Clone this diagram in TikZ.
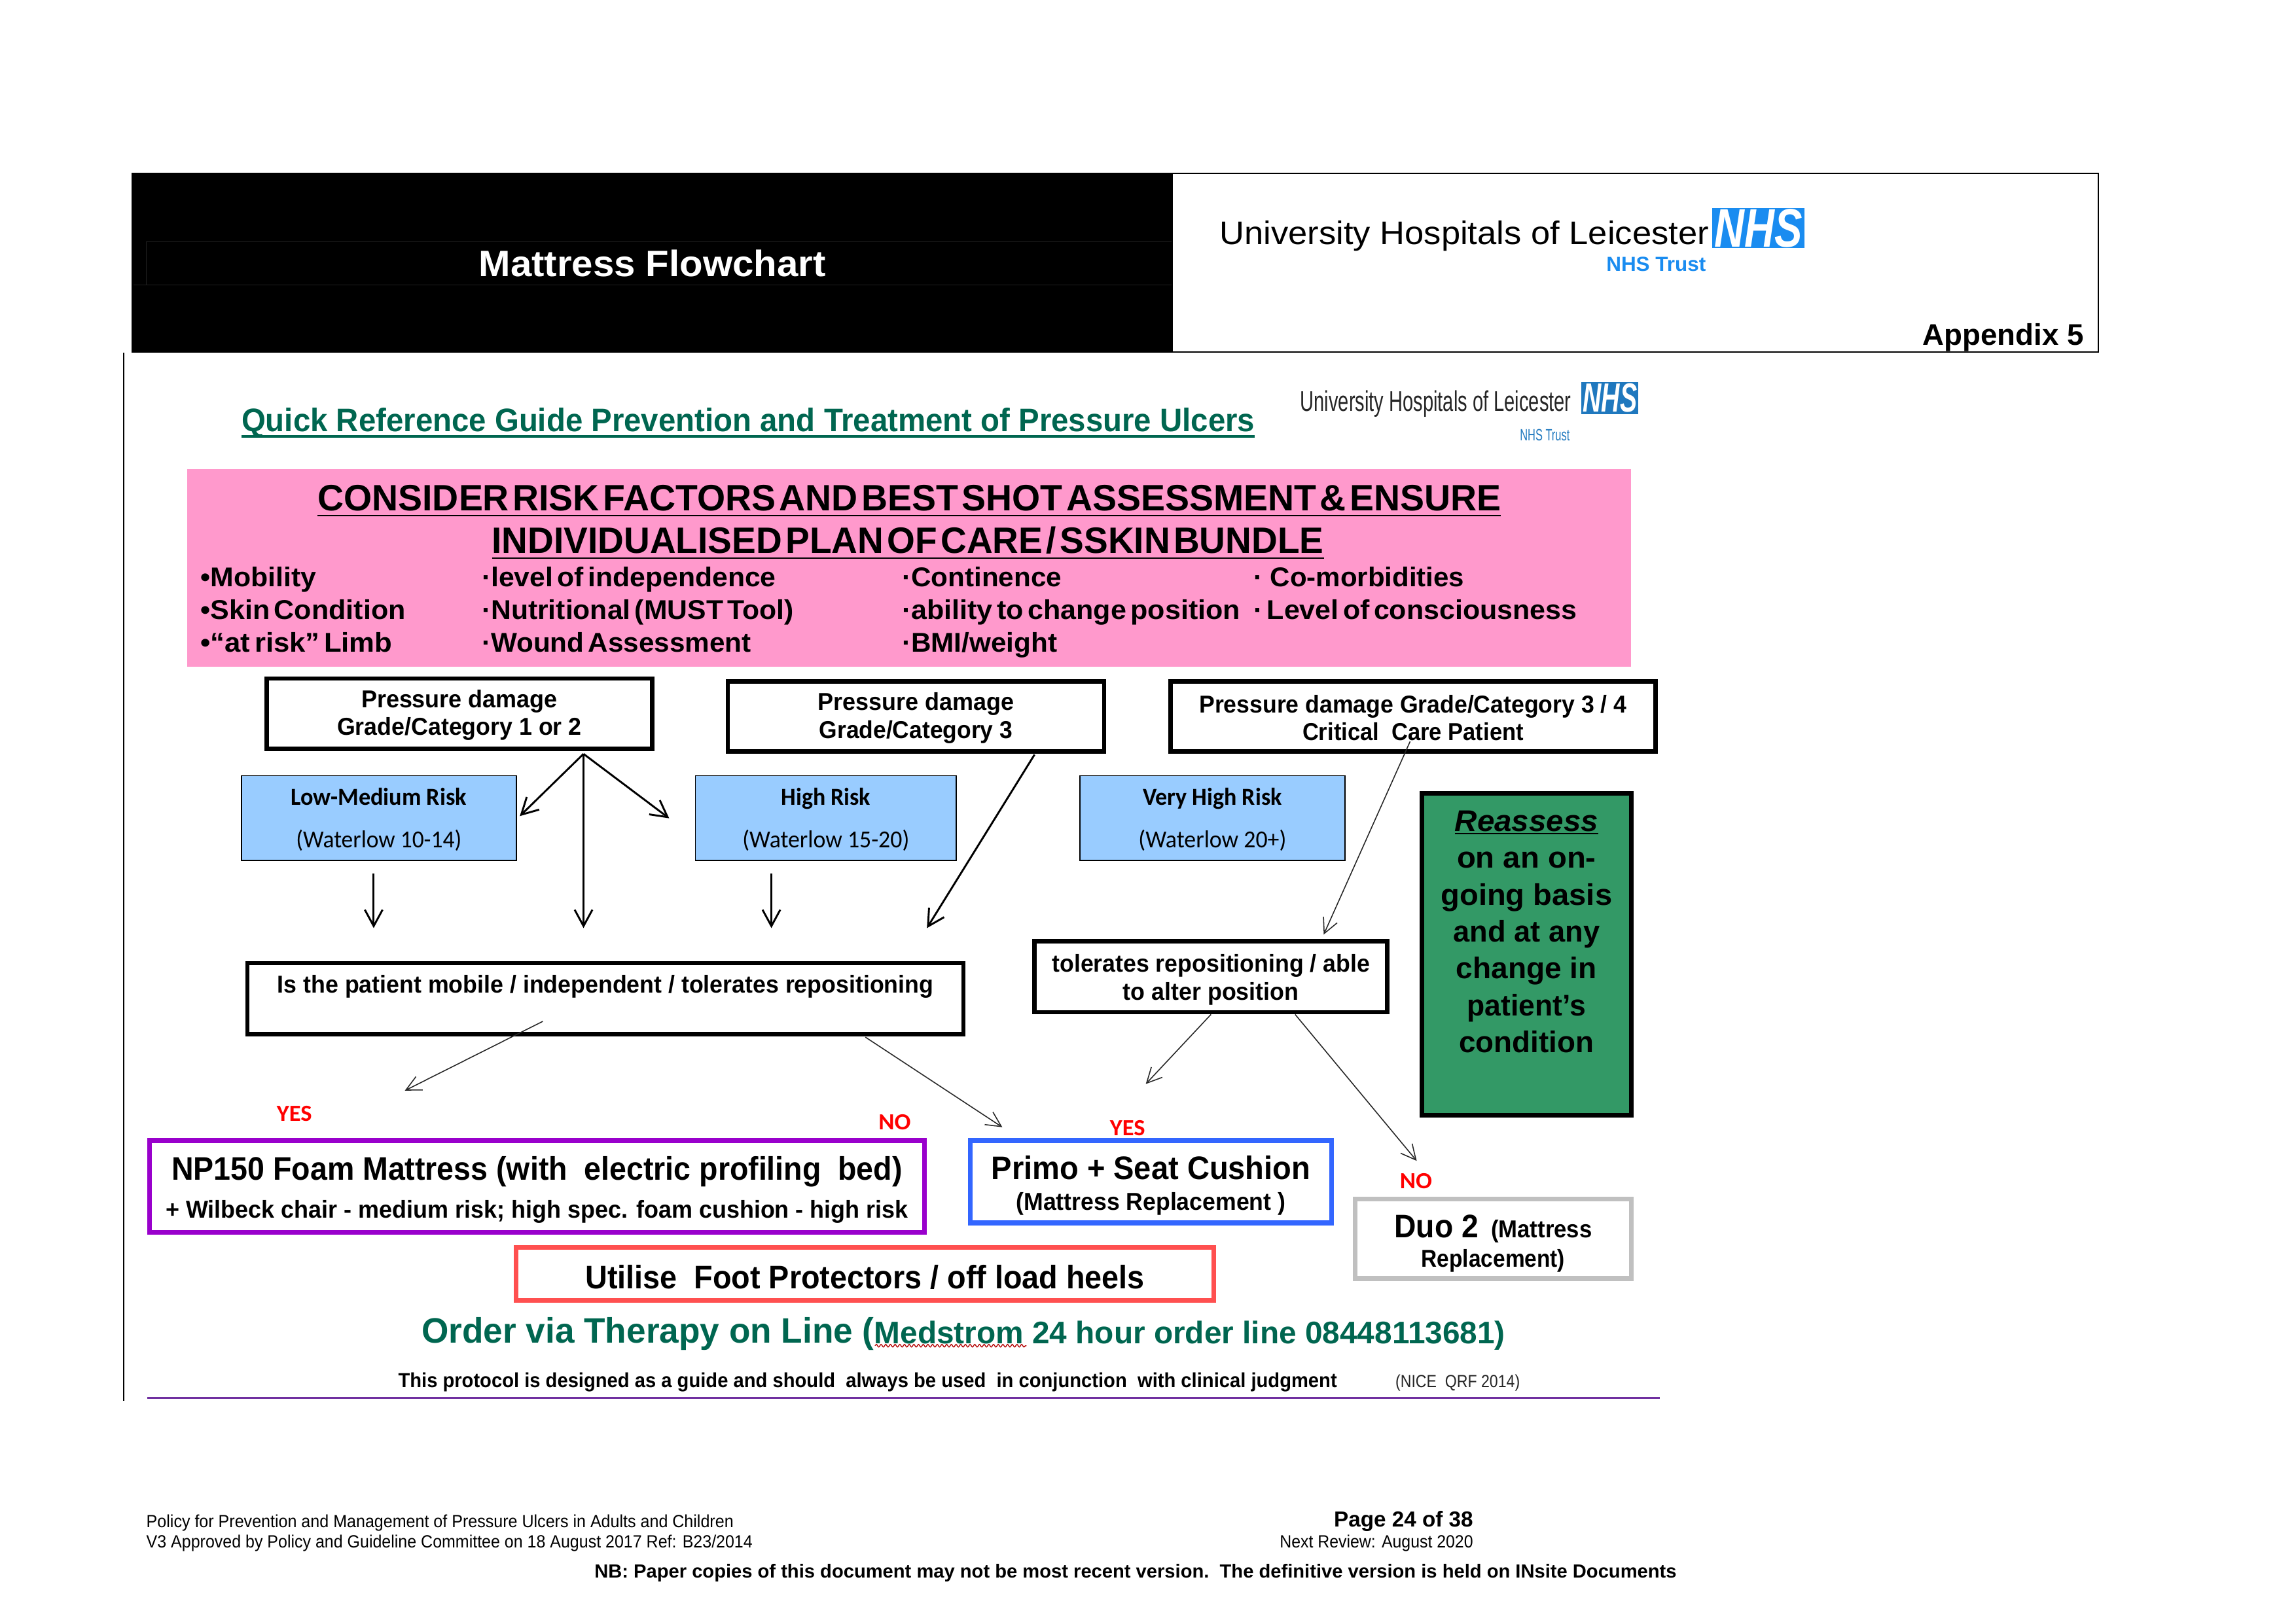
\documentclass[tikz,border=0pt]{standalone}
\usepackage{fontspec}
\usepackage{graphicx}
\usetikzlibrary{arrows.meta,decorations.pathmorphing}
\setmainfont{Liberation Sans}
\newfontfamily\carl{Carlito}
\newlength\du \setlength\du{0.537bp}
\newcommand\fw[2]{\resizebox{#1\du}{\height}{#2}}
\newcommand\Dn[1]{\rule{0pt}{#1bp}}
\newsavebox\ulbox
\newcommand\myul[3]{\sbox\ulbox{#3}\rlap{\rule[-#1\du]{\wd\ulbox}{#2\du}}\usebox\ulbox}
\newcounter{tn}
% \T{x1}{x2}{y}{options}{text}
\newcommand\T[5]{\stepcounter{tn}\pgfmathsetmacro\tw{#2-#1}\node[inner sep=0pt,anchor=mid,#4] (t\arabic{tn}) at ({(#1+#2)/2},#3) {\fw{\tw}{#5}};}
% \B{name}{x1}{x2}{y1}{y2}{options}{text}  (\bi = line width inset)
\def\bi{0}
\newcommand\B[7]{\pgfmathsetmacro\bw{#3-#2-\bi}\pgfmathsetmacro\bh{#5-#4-\bi}\node[minimum width=\bw\du,minimum height=\bh\du,inner sep=0pt,align=center,#6] (#1) at ({(#2+#3)/2},{(#4+#5)/2}) {#7};}
\definecolor{pinkbg}{HTML}{FF99CC}
\definecolor{riskblue}{HTML}{99CCFF}
\definecolor{reagreen}{HTML}{339966}
\definecolor{npurple}{HTML}{9900CC}
\definecolor{pblue}{HTML}{3366FF}
\definecolor{dgrey}{HTML}{C0C0C0}
\definecolor{ured}{HTML}{FF5050}
\definecolor{qgreen}{HTML}{006650}
\definecolor{nhsa}{HTML}{1A8CF0}
\definecolor{nhsb}{HTML}{1F78BE}
\definecolor{rule}{HTML}{7030A0}
\tikzset{
 tb/.style={font=\bfseries\fontsize{#1}{#1}\selectfont},
 tr/.style={font=\fontsize{#1}{#1}\selectfont},
 cb/.style={font=\carl\bfseries\fontsize{#1}{#1}\selectfont},
 bk/.style={draw=black,line width=3\du,fill=white},
 bkfont/.style={font=\bfseries\fontsize{9}{10.2}\selectfont},
 riskbox/.style={draw=black,line width=0.8\du,fill=riskblue,font=\carl\fontsize{9}{15.6}\selectfont},
 heavy/.style={draw=black,line width=1.3\du,-{Straight Barb[length=6bp,width=6.5bp]}},
 light/.style={draw=black!85,line width=0.7\du,-{Straight Barb[length=5.5bp,width=5.5bp]}},
}
\begin{document}
\begin{tikzpicture}[x=0.537bp,y=-0.537bp]
\useasboundingbox (0,0) rectangle (1568,1109);
% header
\def\bi{1}
\B{hdrR}{800}{1433.5}{118}{241}{draw=black,line width=0.9\du,fill=white}{}
\def\bi{0}
\B{hdrL}{90}{800}{118}{241}{fill=black}{}
\draw[black!88!white,line width=0.5\du] (100,165) -- (800,165) (91,194.5) -- (800,194.5) (100,165) -- (100,194.5);
\T{327}{564}{184}{tb=13.5,text=white}{Mattress Flowchart}
\T{833}{1167}{162}{tr=12}{University Hospitals of Leicester}
\B{nhsA}{1169.5}{1232.5}{142}{169.5}{fill=nhsa,text=white,font=\bfseries\itshape\fontsize{20}{20}\selectfont}{\fw{60}{NHS}}
\T{1097}{1165}{180.5}{tb=7.5,text=nhsa}{NHS Trust}
\T{1313}{1423}{231}{tb=11}{Appendix 5}
% left rule
\coordinate (railT) at (84.5,241);
\coordinate (railB) at (84.5,957);
\draw[black,line width=1\du] (railT) -- (railB);
% title
\T{165}{857}{290}{tb=12,text=qgreen}{\myul{4.3}{1.8}{Quick Reference Guide Prevention and Treatment of Pressure Ulcers}}
\T{888}{1073}{276}{tr=10.5,text=black!85}{University Hospitals of Leicester}
\B{nhsB}{1080}{1119}{261}{283}{fill=nhsb,text=white,font=\bfseries\itshape\fontsize{15}{15}\selectfont}{\fw{37}{NHS}}
\T{1038}{1072}{296}{tr=6,text=nhsb}{NHS Trust}
% pink panel
\B{pink}{128}{1114}{320.5}{455.5}{fill=pinkbg}{}
\T{217}{1025}{344}{tb=13.5}{\myul{3.6}{0.9}{\spaceskip=.1em CONSIDER RISK FACTORS AND BEST SHOT ASSESSMENT \& ENSURE}}
\T{336}{904}{373}{tb=13.5}{\myul{3.6}{0.9}{\spaceskip=.1em INDIVIDUALISED PLAN OF CARE / SSKIN BUNDLE}}
\T{137}{216}{396}{tb=10}{•Mobility}
\T{137}{277}{418}{tb=10}{\spaceskip=.15em •Skin Condition}
\T{137}{268}{440.5}{tb=10}{\spaceskip=.15em •“at risk” Limb}
\T{329}{530}{396}{tb=10}{\spaceskip=.15em ·level of independence}
\T{329}{542}{418}{tb=10}{\spaceskip=.15em ·Nutritional (MUST Tool)}
\T{329}{513}{440.5}{tb=10}{\spaceskip=.15em ·Wound Assessment}
\T{616}{725}{396}{tb=10}{·Continence}
\T{616}{847}{418}{tb=10}{\spaceskip=.15em ·ability to change position}
\T{616}{722}{440.5}{tb=10}{·BMI/weight}
\T{856}{1000}{396}{tb=10}{· Co-morbidities}
\T{856}{1077}{418}{tb=10}{\spaceskip=.15em · Level of consciousness}
% top boxes
\def\bi{3}
\B{pdA}{180.5}{447}{462}{513}{bk,bkfont}{\Dn{7.6}\fw{134}{Pressure damage}\\\fw{167}{Grade/Category 1 or 2}}
\B{pdB}{495.5}{755.5}{464}{515}{bk,bkfont}{\Dn{7.6}\fw{134}{Pressure damage}\\\fw{132}{Grade/Category 3}}
\B{pdC}{798}{1132}{464}{515}{bk,bkfont}{\Dn{7.6}\fw{292}{Pressure damage Grade/Category 3 / 4}\\\fw{151}{Critical\ \ Care Patient}}
% risk boxes
\def\bi{0.8}
\B{rkA}{164.5}{353}{529.5}{588}{riskbox}{\Dn{7.4}\fw{120}{\bfseries Low-Medium Risk}\\\fw{113}{(Waterlow 10-14)}}
\B{rkB}{474.5}{653.5}{529.5}{588}{riskbox}{\Dn{7.4}\fw{61}{\bfseries High Risk}\\\fw{114}{(Waterlow 15-20)}}
\B{rkC}{737}{919}{529.5}{588}{riskbox}{\Dn{7.4}\fw{95}{\bfseries Very High Risk}\\\fw{101}{(Waterlow 20+)}}
% reassess
\def\bi{3}
\B{rea}{969.5}{1115.5}{540.5}{763.5}{draw=black,line width=3\du,fill=reagreen,font=\bfseries\fontsize{11}{13.6}\selectfont}{\fw{98}{\myul{2}{0.9}{\itshape Reassess}}\\\fw{95}{on an on-}\\\fw{117}{going basis}\\\fw{100}{and at any}\\\fw{96}{change in}\\\fw{81}{patient’s}\\\fw{92}{condition}\\[6\du]\mbox{}}
% decision boxes
\B{pat}{167.5}{659.5}{656.5}{708}{bk,bkfont}{\raisebox{4\du}[0pt][0pt]{\fw{448}{Is the patient mobile / independent / tolerates repositioning}}}
\B{tol}{705}{949}{641.5}{693}{bk,bkfont}{\Dn{8.7}\fw{217}{tolerates repositioning / able}\\\fw{120}{to alter position}}
% outcome boxes
\def\bi{3.2}
\B{npb}{100.5}{633}{777.5}{843.5}{draw=npurple,line width=3.2\du,fill=white,font=\bfseries\fontsize{9}{14}\selectfont}{\Dn{11}\fw{499}{\fontsize{12}{14}\selectfont NP150 Foam Mattress (with\ \ electric profiling\ \ bed)}\\\fw{507}{+ Wilbeck chair - medium risk; high spec. foam cushion - high risk}}
\B{pri}{661}{911}{777.5}{837}{draw=pblue,line width=3.2\du,fill=white,font=\bfseries\fontsize{9}{11.3}\selectfont}{\Dn{11.5}\fw{218}{\fontsize{12}{14}\selectfont Primo + Seat Cushion}\\\fw{184}{(Mattress Replacement )}}
\B{duo}{924}{1115.5}{817.5}{875}{draw=dgrey,line width=3.2\du,fill=white,font=\bfseries\fontsize{9}{10.8}\selectfont}{\Dn{12}\fw{135}{{\fontsize{12}{14}\selectfont Duo 2}\ \ (Mattress}\\\fw{98}{Replacement)}}
\B{uti}{351}{830.5}{850.5}{890}{draw=ured,line width=3.2\du,fill=white,font=\bfseries\fontsize{12}{14}\selectfont}{\Dn{10.9}\fw{382}{Utilise\ \ Foot Protectors / off load heels}}
\def\bi{0}
% yes/no
\T{189}{213}{761}{cb=8.5,text=red}{YES}
\T{600}{622}{767}{cb=8.5,text=red}{NO}
\T{758}{782}{771}{cb=8.5,text=red}{YES}
\T{956}{978}{807}{cb=8.5,text=red}{NO}
% connectors
\coordinate (fork) at (398.5,515);
\coordinate (e1) at (355,557.5);
\coordinate (e2) at (398.5,634);
\coordinate (e3) at (457,559);
\coordinate (s4) at (255.2,596.7);
\coordinate (e4) at (255.2,634);
\coordinate (s5) at (526.8,596.7);
\coordinate (e5) at (526.8,634);
\coordinate (s6) at (706.5,515.5);
\coordinate (e6) at (633,634);
\coordinate (s7) at (963,506.5);
\coordinate (e7) at (904,638.4);
\coordinate (s8) at (370.7,697.7);
\coordinate (e8) at (276.5,745);
\coordinate (s9) at (591,708.5);
\coordinate (e9) at (684.5,770);
\coordinate (s10) at (827,693);
\coordinate (e10) at (782.5,740.5);
\coordinate (s11) at (884.5,693);
\coordinate (e11) at (967.5,793);
\draw[heavy] (fork) -- (e1);
\draw[heavy] (fork) -- (e2);
\draw[heavy] (fork) -- (e3);
\draw[heavy] (s4) -- (e4);
\draw[heavy] (s5) -- (e5);
\draw[heavy] (s6) -- (e6);
\draw[light] (s7) -- (e7);
\draw[light] (s8) -- (e8);
\draw[light] (s9) -- (e9);
\draw[light] (s10) -- (e10);
\draw[light] (s11) -- (e11);
% order line
\T{288}{597}{912.5}{tb=13,text=qgreen}{Order via Therapy on Line (}
\T{597}{1028}{913}{tb=11.5,text=qgreen}{Medstrom 24 hour order line 08448113681)}
\coordinate (wavyA) at (597.5,919.3);
\coordinate (wavyB) at (701,919.3);
\draw[red!70!black,line width=0.6\du,decorate,decoration={snake,amplitude=0.9\du,segment length=3.2\du}] (wavyA) -- (wavyB);
\T{272}{913}{943}{tb=7.5}{This protocol is designed as a guide and should\ \ always be used\ \ in conjunction\ \ with clinical judgment}
\T{953}{1038}{943}{tr=6.5,text=black!85}{(NICE\ \ QRF 2014)}
\coordinate (ruleA) at (100.5,955);
\coordinate (ruleB) at (1133.5,955);
\draw[rule,line width=1\du] (ruleA) -- (ruleB);
% footer
\T{100}{501}{1038.5}{tr=6.5}{Policy for Prevention and Management of Pressure Ulcers in Adults and Children}
\T{100}{514}{1052.5}{tr=6.5}{V3 Approved by Policy and Guideline Committee on 18 August 2017 Ref: B23/2014}
\T{911}{1006}{1038}{tb=8}{Page 24 of 38}
\T{874}{1006}{1052.5}{tr=6.5}{Next Review: August 2020}
\T{406}{1145}{1073}{tb=7}{NB: Paper copies of this document may not be most recent version.\ \ The definitive version is held on INsite Documents}
\end{tikzpicture}
\end{document}
